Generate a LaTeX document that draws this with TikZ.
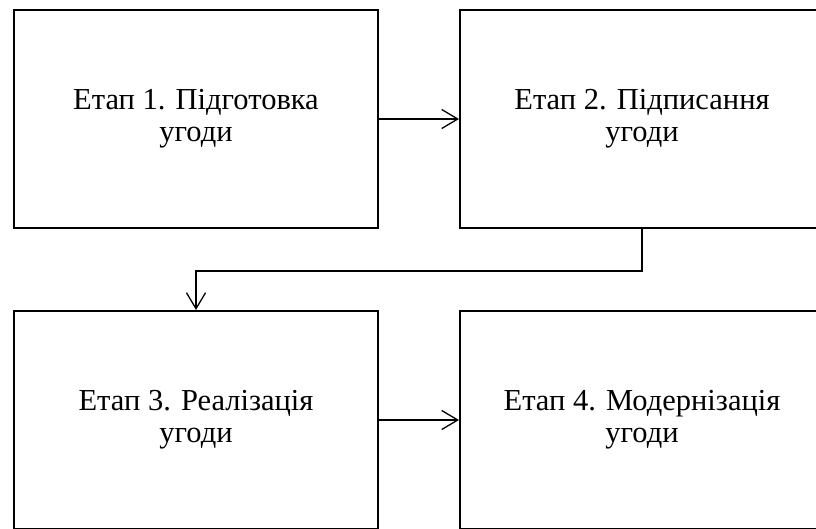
\documentclass[tikz,border=0pt]{standalone}
\usepackage{fontspec}
\setmainfont{Liberation Serif}
\usetikzlibrary{arrows.meta}
\begin{document}
\begin{tikzpicture}[x=1pt,y=-1pt,
  stagebox/.style={draw=black,line width=2pt,minimum width=364pt,minimum height=218pt,
    inner sep=0pt,align=center,font=\fontsize{30.5}{32}\selectfont},
  link/.style={line width=1.3pt,-{Straight Barb[length=16pt,width=19pt,line width=1.3pt]}}]
\useasboundingbox (0,0) rectangle (816,528);
\clip (0,0) rectangle (816,528);
\node[stagebox] (s1) at (196,119) {Етап 1. Підготовка\\угоди};
\node[stagebox] (s2) at (642,119) {Етап 2. Підписання\\угоди};
\node[stagebox] (s3) at (196,420) {Етап 3. Реалізація\\угоди};
\node[stagebox] (s4) at (642,420) {Етап 4. Модернізація\\угоди};
\draw[link] (s1) -- (s2);
\draw[link] (s3) -- (s4);
\draw[link] (s2.south) -- ++(0,42) -| (s3.north);
\end{tikzpicture}
\end{document}
